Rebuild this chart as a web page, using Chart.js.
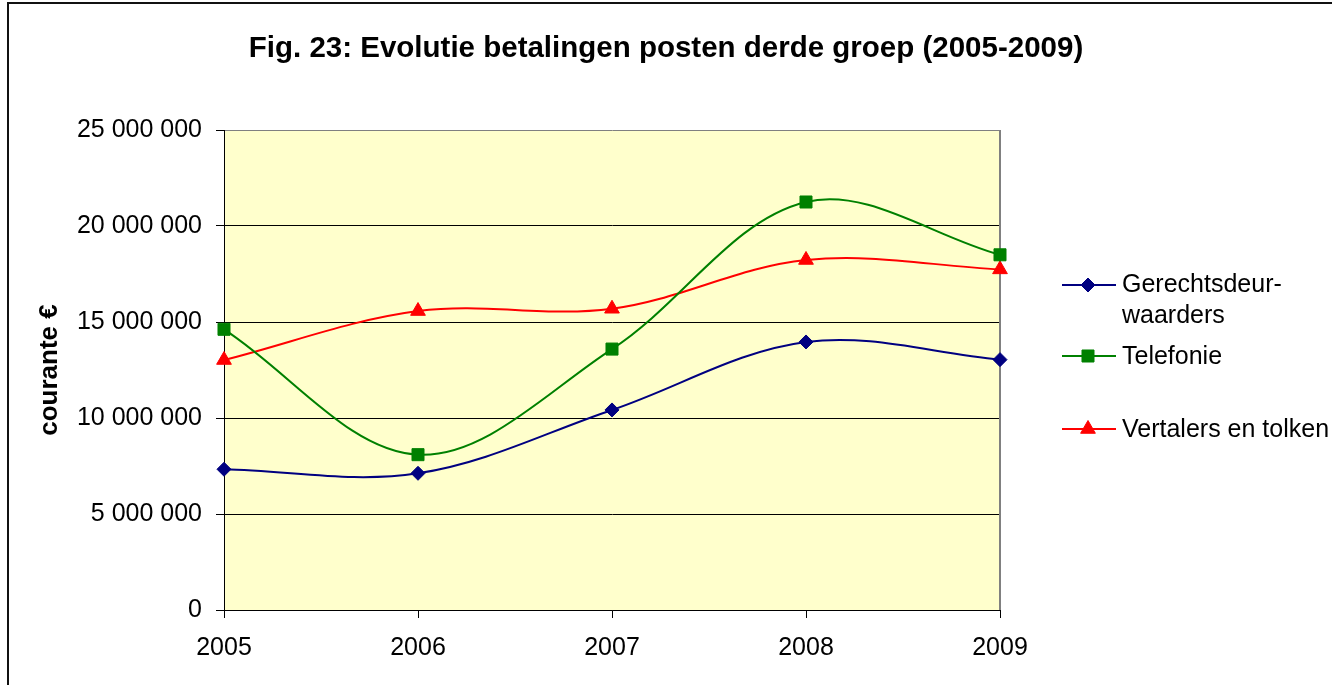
<!DOCTYPE html>
<html>
<head>
<meta charset="utf-8">
<script src="https://cdn.jsdelivr.net/npm/chart.js@4/dist/chart.umd.min.js"></script>
<style>
html,body{margin:0;padding:0;background:#fff;overflow:hidden}
#wrap{position:relative;width:1332px;height:685px}
</style>
</head>
<body>
<div id="wrap"><canvas id="c" width="1332" height="685"></canvas></div>
<script>
// ---- data ----
const categories = ['2005', '2006', '2007', '2008', '2009'];
const gerechtsdeurwaarders = [7330000, 7120000, 10420000, 13960000, 13040000];
const telefonie = [14620000, 8090000, 13590000, 21250000, 18500000];
const vertalersEnTolken = [13020000, 15570000, 15690000, 18230000, 17740000];
const seriesNames = ['Gerechtsdeurwaarders', 'Telefonie', 'Vertalers en tolken'];
const legendTexts = [['Gerechtsdeur-', 'waarders'], ['Telefonie'], ['Vertalers en tolken']];
const yTickValues = [0, 5000000, 10000000, 15000000, 20000000, 25000000];
const chartTitle = 'Fig. 23: Evolutie betalingen posten derde groep (2005-2009)';
const yAxisTitle = 'courante €';

const FONT = "'Liberation Sans', Arial, sans-serif";

function fmt(v) {
  return String(v).replace(/\B(?=(\d{3})+(?!\d))/g, ' ');
}

function drawMarker(ctx, style, x, y, r) {
  ctx.beginPath();
  if (style === 'rectRot') {
    ctx.moveTo(x - r, y); ctx.lineTo(x, y - r); ctx.lineTo(x + r, y); ctx.lineTo(x, y + r);
  } else if (style === 'rect') {
    const s = Math.SQRT1_2 * r;
    ctx.rect(x - s, y - s, 2 * s, 2 * s);
  } else if (style === 'triangle') {
    let a = 0;
    for (let k = 0; k < 3; k++) {
      const px = x + Math.sin(a) * r, py = y - Math.cos(a) * r;
      if (k === 0) ctx.moveTo(px, py); else ctx.lineTo(px, py);
      a += 2 * Math.PI / 3;
    }
  }
  ctx.closePath();
  ctx.fill();
  ctx.stroke();
}

const plotBg = {
  id: 'plotBg',
  beforeDraw(chart) {
    const {ctx, chartArea: a} = chart;
    ctx.save();
    ctx.fillStyle = '#FFFFCC';
    ctx.fillRect(a.left, a.top, a.right - a.left, a.bottom - a.top);
    ctx.restore();
  },
  beforeDatasetsDraw(chart) {
    const {ctx, chartArea: a} = chart;
    ctx.save();
    ctx.strokeStyle = '#808080';
    ctx.lineWidth = 2;
    ctx.beginPath();
    ctx.moveTo(a.right, a.top);
    ctx.lineTo(a.right, a.bottom);
    ctx.stroke();
    ctx.restore();
  },
  afterDraw(chart) {
    const ctx = chart.ctx;
    ctx.save();
    ctx.strokeStyle = '#111';
    ctx.lineWidth = 2;
    ctx.beginPath();
    ctx.moveTo(8, 700);
    ctx.lineTo(8, 3);
    ctx.lineTo(1340, 3);
    ctx.stroke();
    ctx.restore();
  }
};

const sideLegend = {
  id: 'sideLegend',
  afterDraw(chart) {
    const ctx = chart.ctx;
    const rows = [
      {markY: 285, textY: [292, 323]},
      {markY: 356, textY: [364]},
      {markY: 429, textY: [437]}
    ];
    ctx.save();
    chart.data.datasets.forEach((ds, i) => {
      const row = rows[i];
      ctx.strokeStyle = ds.borderColor;
      ctx.lineWidth = 2;
      ctx.beginPath();
      ctx.moveTo(1062, row.markY);
      ctx.lineTo(1116, row.markY);
      ctx.stroke();
      ctx.fillStyle = ds.pointBackgroundColor;
      ctx.strokeStyle = ds.pointBorderColor;
      ctx.lineWidth = 1;
      drawMarker(ctx, ds.pointStyle, 1088, row.markY, ds.pointRadius);
      ctx.fillStyle = '#000';
      ctx.font = '25px ' + FONT;
      ctx.textAlign = 'left';
      ctx.textBaseline = 'alphabetic';
      legendTexts[i].forEach((t, j) => ctx.fillText(t, 1122, row.textY[j]));
    });
    ctx.restore();
  }
};

const seriesValues = [gerechtsdeurwaarders, telefonie, vertalersEnTolken];
const colors = ['#000080', '#008000', '#FF0000'];
const styles = ['rectRot', 'rect', 'triangle'];
const radii = [7, 8.5, 8.5];

new Chart(document.getElementById('c'), {
  type: 'line',
  data: {
    labels: categories,
    datasets: seriesValues.map((vals, i) => ({
      label: seriesNames[i],
      data: vals,
      borderColor: colors[i],
      backgroundColor: colors[i],
      pointBackgroundColor: colors[i],
      pointBorderColor: colors[i],
      pointBorderWidth: 1,
      pointStyle: styles[i],
      pointRadius: radii[i],
      borderWidth: 2,
      tension: 0.35,
      fill: false,
      clip: false
    }))
  },
  options: {
    responsive: false,
    animation: false,
    devicePixelRatio: 1,
    layout: {padding: 0},
    plugins: {
      legend: {display: false},
      tooltip: {enabled: false},
      title: {
        display: true,
        text: chartTitle,
        color: '#000',
        font: {family: FONT, size: 29.5, weight: 'bold'},
        padding: {top: 31, bottom: 63.6}
      }
    },
    scales: {
      x: {
        type: 'category',
        offset: false,
        grid: {drawOnChartArea: false, drawTicks: true, tickLength: 8, tickColor: '#000', color: '#000'},
        border: {display: true, color: '#000', width: 1},
        ticks: {color: '#000', font: {family: FONT, size: 25}, padding: 15, maxRotation: 0, autoSkip: false},
        afterFit(s) { s.height = 75; }
      },
      y: {
        position: 'left',
        min: 0,
        max: 25000000,
        afterBuildTicks(s) { s.ticks = yTickValues.map(v => ({value: v})); },
        grid: {
          color: (c) => (c.tick && c.tick.value === 25000000 ? '#808080' : '#000'),
          lineWidth: 1,
          drawTicks: true,
          tickLength: 8,
          tickColor: '#000'
        },
        border: {display: true, color: '#000', width: 1},
        ticks: {color: '#000', font: {family: FONT, size: 25}, padding: 14, callback: (v) => fmt(v)},
        title: {
          display: true,
          text: yAxisTitle,
          color: '#000',
          font: {family: FONT, size: 26, weight: 'bold'},
          padding: {top: 34, bottom: 0}
        },
        afterFit(s) { s.width = 224; }
      },
      spacer: {
        position: 'right',
        display: true,
        min: 0,
        max: 1,
        grid: {display: false, drawTicks: false},
        border: {display: false},
        ticks: {display: false},
        afterFit(s) { s.width = 332; }
      }
    }
  },
  plugins: [plotBg, sideLegend]
});
</script>
</body>
</html>
